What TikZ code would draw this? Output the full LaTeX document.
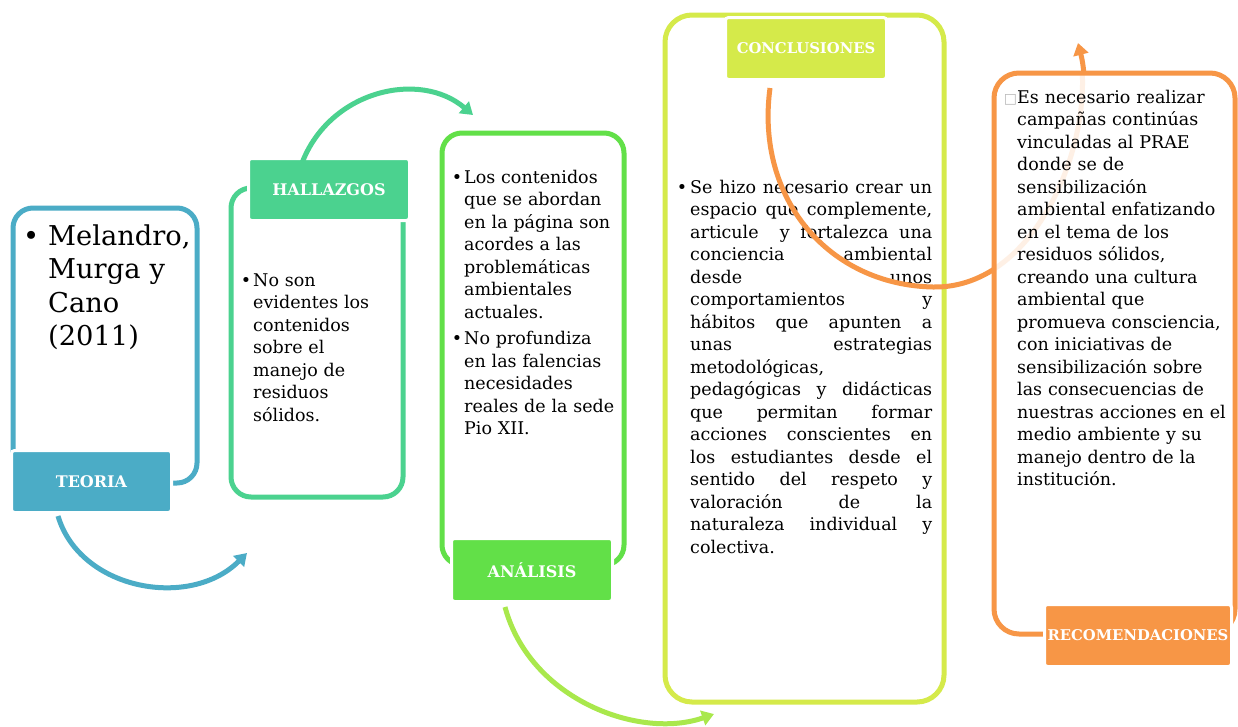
\documentclass[tikz,border=0pt]{standalone}
\usepackage{fontspec}
\setmainfont{DejaVu Serif}
\newfontfamily\symfont{DejaVu Sans}
\usetikzlibrary{arrows.meta}
\definecolor{teoc}{HTML}{4BACC6}
\definecolor{halc}{HTML}{4BD28F}
\definecolor{anac}{HTML}{62E048}
\definecolor{conc}{HTML}{D5EA4A}
\definecolor{recc}{HTML}{F79646}
\definecolor{anarrow}{HTML}{A9E84C}
\tikzset{
  outl/.style={draw=#1, line width=5pt},
  lbl/.style={fill=#1, draw=white, line width=3pt, rounded corners=3pt, text=white,
    font=\fontsize{16}{18}\selectfont\bfseries, inner sep=0pt},
  lbllong/.style={font=\fontsize{14.8}{17}\selectfont\bfseries},
  body/.style={anchor=north west, inner sep=0pt, text width=#1, align=left,
    font=\fontsize{17.5}{22.5}\selectfont},
  conn/.style={draw=#1, line width=5pt, -{Triangle[length=12pt,width=15pt]}},
}
\begin{document}
\begin{tikzpicture}[x=1pt,y=-1pt]
\fill[white] (0,0) rectangle (1238,726);
\useasboundingbox (0,0) rectangle (1238,726);

% ---------- TEORIA
\draw[outl=teoc, rounded corners=20pt] (13,208) rectangle (197,483);
\node[lbl=teoc, minimum width=160, minimum height=62] (teolbl) at (91.5,481.5) {TEORIA};
\node[body=150pt, font=\fontsize{27.3}{33.5}\selectfont] (teotxt) at (48,221.5)
  {\strut\llap{\textbullet\hspace{9pt}}Melandro,\\Murga y\\Cano\\(2011)};

% ---------- HALLAZGOS
\draw[outl=halc, rounded corners=20pt] (231,188) rectangle (403,497);
\node[lbl=halc, minimum width=161, minimum height=62] (hallbl) at (329,189.5) {HALLAZGOS};
\node[body=150pt] (haltxt) at (253,270.25)
  {\strut\llap{\textbullet\hspace{2pt}}No son\\evidentes los\\contenidos\\sobre el\\manejo de\\residuos\\sólidos.};

% ---------- ANALISIS
\draw[outl=anac, rounded corners=20pt] (442,133) rectangle (624,565);
\node[lbl=anac, minimum width=161, minimum height=63] (analbl) at (532,570) {ANÁLISIS};
\node[body=160pt] (anatxt) at (464,167.25)
  {\strut\llap{\textbullet\hspace{2pt}}Los contenidos\\que se abordan\\en la página son\\acordes a las\\problemáticas\\ambientales\\actuales.\\[4pt]
   \strut\llap{\textbullet\hspace{2pt}}No profundiza\\en las falencias\\necesidades\\reales de la sede\\Pio XII.};

% ---------- CONCLUSIONES
\draw[outl=conc, rounded corners=27pt] (665,15) rectangle (944,702);
\node[lbl=conc, lbllong, minimum width=161, minimum height=62] (conlbl) at (806,48.5) {CONCLUSIONES};
\node[body=242pt, align=justify] (contxt) at (690,177.25)
  {\tolerance=10000 \hyphenpenalty=10000 \noindent\strut\llap{\textbullet\hspace{3pt}}Se hizo necesario crear un\linebreak
   espacio que complemente,\linebreak
   articule \ y fortalezca una\linebreak
   conciencia ambiental\linebreak
   desde unos\linebreak
   comportamientos y\linebreak
   hábitos que apunten a\linebreak
   unas estrategias\linebreak
   metodológicas,\linebreak
   pedagógicas y didácticas\linebreak
   que permitan formar\linebreak
   acciones conscientes en\linebreak
   los estudiantes desde el\linebreak
   sentido del respeto y\linebreak
   valoración de la\linebreak
   naturaleza individual y\linebreak
   colectiva.};

% ---------- connectors
\coordinate (teoEnd) at (247,553);
\coordinate (halEnd) at (473,115);
\coordinate (anaEnd) at (714,714);
\coordinate (conMid) at (933,287);
\coordinate (conEnd) at (1078,43);
\coordinate (conStart) at ([xshift=-36pt,yshift=-7pt]conlbl.south);
\draw[conn=teoc] ([xshift=-33.5pt,yshift=-2pt]teolbl.south) .. controls (80,590) and (190,610) .. (teoEnd);
\draw[conn=halc] ([xshift=-27pt,yshift=-6pt]hallbl.north) .. controls (330,90) and (420,70) .. (halEnd);
\draw[conn=anarrow] ([xshift=-27pt,yshift=-4pt]analbl.south) .. controls (530,700) and (640,740) .. (anaEnd);
\draw[conn=recc]
  (conStart) .. controls (755,200) and (830,285) .. (conMid)
  .. controls (1040,289) and (1100,130) .. (conEnd);

% ---------- RECOMENDACIONES
\fill[white, rounded corners=25pt] (994,73) rectangle (1235,634);
\begin{scope}
  \clip[rounded corners=25pt] (994,73) rectangle (1235,634);
  \draw[recc!14, line width=5pt] (conMid) .. controls (1040,289) and (1100,130) .. (conEnd);
\end{scope}
\draw[outl=recc, rounded corners=25pt] (994,73) rectangle (1235,634);
\node[lbl=recc, lbllong, minimum width=187, minimum height=62] (reclbl) at (1138,635.5) {RECOMENDACIONES};
\node[body=220pt] (rectxt) at (1017,87.25)
  {\strut\llap{{\fontsize{14}{14}\symfont\color{gray!55}□}}Es necesario realizar\\campañas continúas\\vinculadas al PRAE\\donde se de\\sensibilización\\ambiental enfatizando\\en el tema de los\\residuos sólidos,\\creando una cultura\\ambiental que\\promueva consciencia,\\con iniciativas de\\sensibilización sobre\\las consecuencias de\\nuestras acciones en el\\medio ambiente y su\\manejo dentro de la\\institución.};
\end{tikzpicture}
\end{document}
